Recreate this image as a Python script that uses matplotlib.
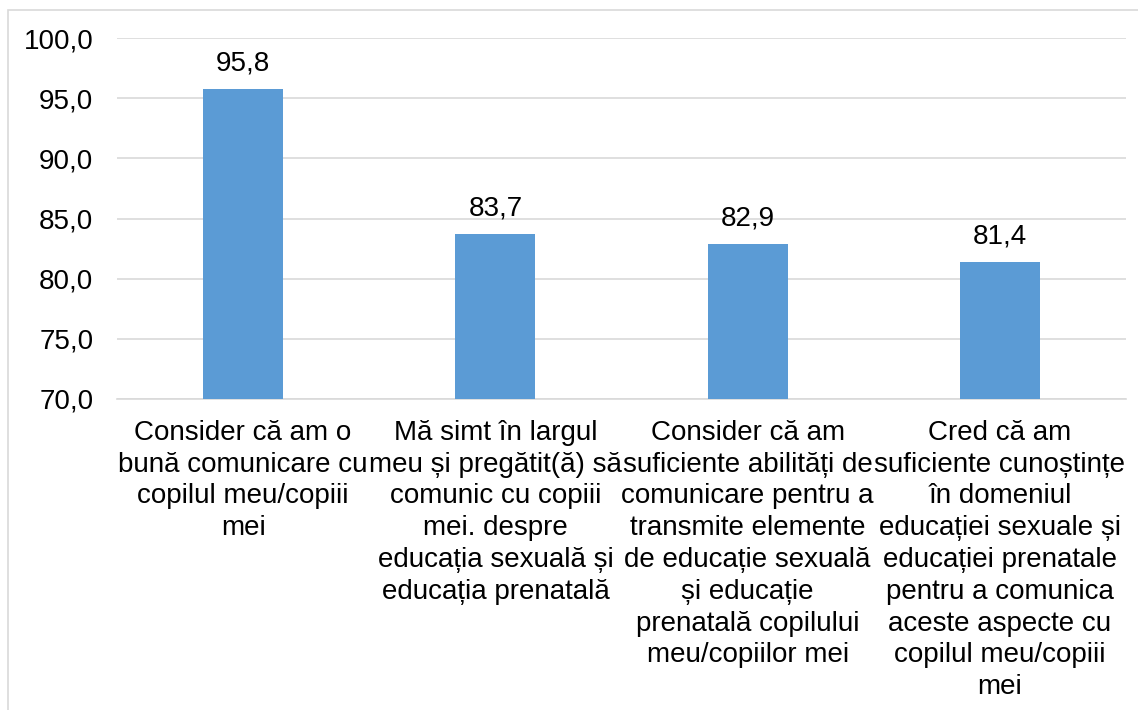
import matplotlib
matplotlib.use("Agg")
import matplotlib.pyplot as plt
from matplotlib.patches import Rectangle
from matplotlib.ticker import FuncFormatter

categories = [
    "Consider că am o\nbună comunicare cu\ncopilul meu/copiii\nmei",
    "Mă simt în largul\nmeu și pregătit(ă) să\ncomunic cu copiii\nmei. despre\neducația sexuală și\neducația prenatală",
    "Consider că am\nsuficiente abilități de\ncomunicare pentru a\ntransmite elemente\nde educație sexuală\nși educație\nprenatală copilului\nmeu/copiilor mei",
    "Cred că am\nsuficiente cunoștințe\nîn domeniul\neducației sexuale și\neducației prenatale\npentru a comunica\naceste aspecte cu\ncopilul meu/copiii\nmei",
]
values = [95.8, 83.7, 82.9, 81.4]
yticks = [70, 75, 80, 85, 90, 95, 100]

plt.rcParams['font.family'] = ['Liberation Sans', 'DejaVu Sans']

W, H = 1138, 710
FS = 20
fig = plt.figure(figsize=(W / 100, H / 100), dpi=100)
ax = fig.add_axes([117 / W, 1 - 399 / H, (1126 - 117) / W, (399 - 38) / H])

x = list(range(len(values)))
bars = ax.bar(x, values, width=0.317, color="#5B9BD5", zorder=3)
ax.set_ylim(70, 100)
ax.set_xlim(-0.5, len(values) - 0.5)
ax.set_yticks(yticks)
ax.yaxis.set_major_formatter(FuncFormatter(lambda v, p: f"{v:.1f}".replace(".", ",")))
ax.grid(axis="y", color="#D9D9D9", linewidth=1.2, zorder=0)
for s in ["top", "right", "left"]:
    ax.spines[s].set_visible(False)
ax.spines["bottom"].set_color("#D9D9D9")
ax.spines["bottom"].set_linewidth(1.2)
ax.tick_params(axis="y", length=0, pad=17, labelsize=FS, labelcolor="#000000")
ax.tick_params(axis="x", length=0, pad=15, labelsize=FS, labelcolor="#000000")
ax.set_xticks(x)
ax.set_xticklabels(categories, linespacing=1.29, va="top")

for b, v in zip(bars, values):
    ax.annotate(f"{v:.1f}".replace(".", ","), (b.get_x() + b.get_width() / 2, v),
                xytext=(0, 9), textcoords="offset points", ha="center", va="bottom",
                fontsize=FS, color="#000000")

# outer chart frame
fig.patches.append(Rectangle((8 / W, -0.1), 1.2, 1 - 10 / H + 0.1, transform=fig.transFigure,
                             fill=False, edgecolor="#D9D9D9", linewidth=1.2, zorder=0))

fig.savefig("out.png", dpi=100)
